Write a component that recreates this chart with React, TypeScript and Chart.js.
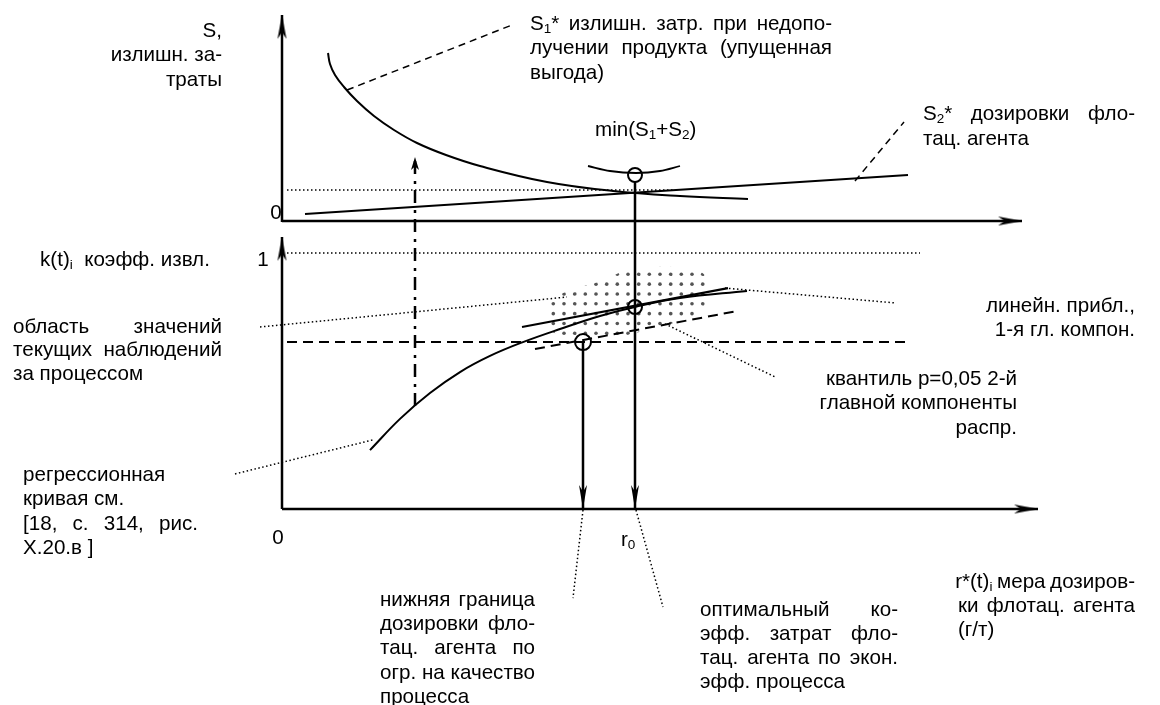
import React, { useEffect, useRef } from "react";
import { Chart, registerables } from "chart.js";

Chart.register(...registerables);

// ================= DATA =================
// r – dose of the flotation agent, S – excess costs (top panel), k – recovery coefficient (bottom panel)

// axes (from origin to arrow tip)
const topAxisR = [0, 7.4];
const topAxisS = [-0.01, 2.06];
const bottomAxisR = [0, 7.56];
const bottomAxisK = [0, 1.0625];

// top panel
const s1R = [0.46, 0.48, 0.53, 0.62, 0.75, 0.92, 1.12, 1.35, 1.64, 1.98, 2.65, 3.31, 3.98, 4.66];
const s1S = [1.68, 1.57, 1.46, 1.34, 1.2, 1.05, 0.91, 0.78, 0.66, 0.55, 0.39, 0.3, 0.25, 0.22];
const s2R = [0.23, 6.26];
const s2S = [0.07, 0.46];
const minArcR = [3.06, 3.28, 3.54, 3.78, 3.98];
const minArcS = [0.55, 0.5, 0.48, 0.5, 0.55];
const minLevelR = [0.05, 3.91];
const minLevelS = 0.31;
const optimumR = 3.53; // r0
const optimumS = 0.46;

// bottom panel
const optimumK = 0.789;
const lowBoundR = 3.01;
const lowBoundK = 0.652;
const kOne = 1;
const kOneR = [0.05, 6.38];
const kLowR = [0.05, 6.28];
const regR = [0.88, 1.18, 1.48, 1.78, 2.08, 2.41, 2.78, 3.18, 3.53, 3.98, 4.65];
const regK = [0.23, 0.352, 0.453, 0.535, 0.598, 0.652, 0.703, 0.754, 0.789, 0.824, 0.852];
const pc1R = [2.4, 4.46];
const pc1K = [0.711, 0.863];
const q05R = [2.53, 4.55];
const q05K = [0.625, 0.773];
const regionR = [2.65, 2.88, 3.2, 3.41, 3.78, 4.15, 4.26, 4.26, 4.04, 3.3, 2.88, 2.65];
const regionK = [0.816, 0.855, 0.891, 0.93, 0.949, 0.941, 0.902, 0.789, 0.738, 0.664, 0.664, 0.699];
const r0LineK = [1.281, 0];
const lossR = 1.33;
const lossK = [0.402, 1.375];

// leader lines
const leadS1R = [0.65, 2.3];
const leadS1S = [1.31, 1.96];
const leadS2R = [5.73, 6.22];
const leadS2S = [0.4, 0.99];
const leadRegionR = [-0.22, 2.85];
const leadRegionK = [0.711, 0.828];
const leadPc1R = [4.43, 6.13];
const leadPc1K = [0.863, 0.805];
const leadQR = [3.83, 4.93];
const leadQK = [0.723, 0.516];
const leadRegR = [-0.47, 0.91];
const leadRegK = [0.137, 0.27];
const leadLowR = [3.01, 2.91];
const leadLowK = [-0.004, -0.348];
const leadOptR = [3.54, 3.81];
const leadOptK = [-0.004, -0.383];

// scale ranges
const X_MIN = -2.82;
const X_MAX = 8.78;
const S_MIN = -4.84;
const S_MAX = 2.21;
const K_MIN = -0.765625;
const K_MAX = 1.98828125;

// ================= TEXT =================
const FONT_FAMILY = '"Liberation Sans", Arial, Helvetica, sans-serif';
const FONT_SIZE = 20.6;
const SUB_SIZE = 13.5;
const SUB_DY = 5;

type Line = [string, "L" | "R" | "J" | "C"];
type Block = { x0: number; x1: number; y: number; lh: number; lines: Line[] };

const TEXT_BLOCKS: Block[] = [
  { x0: 0, x1: 222, y: 31, lh: 24.5, lines: [["S,", "R"], ["излишн. за-", "R"], ["траты", "R"]] },
  {
    x0: 530, x1: 832, y: 24, lh: 24.5,
    lines: [["S_{1}* излишн. затр. при недопо-", "J"], ["лучении продукта (упущенная", "J"], ["выгода)", "L"]],
  },
  { x0: 595, x1: 700, y: 130, lh: 24, lines: [["min(S_{1}+S_{2})", "L"]] },
  { x0: 923, x1: 1135, y: 114, lh: 25, lines: [["S_{2}* дозировки фло-", "J"], ["тац. агента", "L"]] },
  { x0: 266, x1: 286, y: 213, lh: 24, lines: [["0", "C"]] },
  { x0: 40, x1: 230, y: 260, lh: 24, lines: [["k(t)_{i}  коэфф. извл.", "L"]] },
  { x0: 253, x1: 273, y: 260, lh: 24, lines: [["1", "C"]] },
  {
    x0: 13, x1: 222, y: 327, lh: 23.5,
    lines: [["область значений", "J"], ["текущих наблюдений", "J"], ["за процессом", "L"]],
  },
  {
    x0: 23, x1: 198, y: 475, lh: 24.5,
    lines: [["регрессионная", "L"], ["кривая см.", "L"], ["[18, с. 314, рис.", "J"], ["X.20.в ]", "L"]],
  },
  { x0: 268, x1: 288, y: 538, lh: 24, lines: [["0", "C"]] },
  { x0: 900, x1: 1135, y: 306, lh: 24.5, lines: [["линейн. прибл.,", "R"], ["1-я гл. компон.", "R"]] },
  {
    x0: 800, x1: 1017, y: 379, lh: 24.5,
    lines: [["квантиль р=0,05 2-й", "R"], ["главной компоненты", "R"], ["распр.", "R"]],
  },
  { x0: 621, x1: 660, y: 540, lh: 24, lines: [["r_{0}", "L"]] },
  {
    x0: 380, x1: 535, y: 600, lh: 24.3,
    lines: [["нижняя граница", "J"], ["дозировки фло-", "J"], ["тац. агента по", "J"], ["огр. на качество", "J"], ["процесса", "L"]],
  },
  {
    x0: 700, x1: 898, y: 610, lh: 24,
    lines: [["оптимальный ко-", "J"], ["эфф. затрат фло-", "J"], ["тац. агента по экон.", "J"], ["эфф. процесса", "L"]],
  },
  {
    x0: 958, x1: 1135, y: 582, lh: 24,
    lines: [["r*(t)_{i} мера дозиров-", "J"], ["ки флотац. агента", "J"], ["(г/т)", "L"]],
  },
];

type Seg = { t: string; sub: boolean };
function parseSegs(s: string): Seg[] {
  const out: Seg[] = [];
  const re = /_\{([^}]*)\}/g;
  let last = 0;
  let m: RegExpExecArray | null;
  while ((m = re.exec(s))) {
    if (m.index > last) out.push({ t: s.slice(last, m.index), sub: false });
    out.push({ t: m[1], sub: true });
    last = re.lastIndex;
  }
  if (last < s.length) out.push({ t: s.slice(last), sub: false });
  return out;
}
function setFont(ctx: CanvasRenderingContext2D, sub: boolean) {
  ctx.font = `${sub ? SUB_SIZE : FONT_SIZE}px ${FONT_FAMILY}`;
}
function segsWidth(ctx: CanvasRenderingContext2D, segs: Seg[]) {
  let w = 0;
  for (const s of segs) {
    setFont(ctx, s.sub);
    w += ctx.measureText(s.t).width;
  }
  return w;
}
function drawSegs(ctx: CanvasRenderingContext2D, segs: Seg[], x: number, y: number) {
  for (const s of segs) {
    setFont(ctx, s.sub);
    ctx.fillText(s.t, x, y + (s.sub ? SUB_DY : 0));
    x += ctx.measureText(s.t).width;
  }
}
function drawTextLine(ctx: CanvasRenderingContext2D, text: string, mode: string, x0: number, x1: number, y: number) {
  if (mode === "J") {
    const words = text.split(" ").filter(Boolean).map(parseSegs);
    const widths = words.map((w) => segsWidth(ctx, w));
    const total = widths.reduce((a, b) => a + b, 0);
    setFont(ctx, false);
    const minGap = ctx.measureText(" ").width * 0.8;
    const gap = words.length > 1 ? Math.max(minGap, (x1 - x0 - total) / (words.length - 1)) : 0;
    const used = total + gap * (words.length - 1);
    let x = used > x1 - x0 ? x1 - used : x0;
    words.forEach((w, i) => {
      drawSegs(ctx, w, x, y);
      x += widths[i] + gap;
    });
    return;
  }
  const segs = parseSegs(text);
  const w = segsWidth(ctx, segs);
  const x = mode === "R" ? x1 - w : mode === "C" ? (x0 + x1) / 2 - w / 2 : x0;
  drawSegs(ctx, segs, x, y);
}

const textPlugin = {
  id: "diagramText",
  afterDatasetsDraw(chart: any) {
    const ctx: CanvasRenderingContext2D = chart.ctx;
    ctx.save();
    ctx.fillStyle = "#000";
    ctx.textBaseline = "middle";
    ctx.textAlign = "left";
    for (const b of TEXT_BLOCKS) {
      b.lines.forEach(([t, a], i) => drawTextLine(ctx, t, a, b.x0, b.x1, b.y + i * b.lh));
    }
    ctx.restore();
  },
};

// dotted texture for the observation region
function makeDotPattern(ctx: CanvasRenderingContext2D) {
  const tw = 32;
  const th = 59;
  const c = document.createElement("canvas");
  c.width = tw;
  c.height = th;
  const g = c.getContext("2d")!;
  g.fillStyle = "#555";
  const cols = [9.3, 20.0, 30.7];
  const rows = [38.3, 48.13, 57.97, 8.8, 18.63, 28.47];
  for (const cx of cols)
    for (const cy of rows)
      for (const dx of [-tw, 0, tw])
        for (const dy of [-th, 0, th]) {
          g.beginPath();
          g.arc(cx + dx, cy + dy, 1.8, 0, Math.PI * 2);
          g.fill();
        }
  return ctx.createPattern(c, "repeat")!;
}

const regionPlugin = {
  id: "regionPattern",
  beforeDatasetsDraw(chart: any) {
    const idx = chart.data.datasets.findIndex((d: any) => d.label === "region");
    if (idx < 0) return;
    const pts = chart.getDatasetMeta(idx).data;
    const ctx: CanvasRenderingContext2D = chart.ctx;
    ctx.save();
    ctx.beginPath();
    pts.forEach((p: any, i: number) => (i ? ctx.lineTo(p.x, p.y) : ctx.moveTo(p.x, p.y)));
    ctx.closePath();
    ctx.fillStyle = makeDotPattern(ctx);
    ctx.fill();
    ctx.restore();
  },
};

function makeArrow(len: number, width: number) {
  const c = document.createElement("canvas");
  c.width = 2 * len + 2;
  c.height = width + 2;
  const g = c.getContext("2d")!;
  const cy = c.height / 2;
  const tip = len + 1;
  g.fillStyle = "#000";
  g.beginPath();
  g.moveTo(tip, cy);
  g.lineTo(1, cy - width / 2);
  g.lineTo(1 + len * 0.28, cy);
  g.lineTo(1, cy + width / 2);
  g.closePath();
  g.fill();
  return c;
}

const pts = (xs: number[], ys: number[]) => xs.map((x, i) => ({ x, y: ys[i] }));
const hPts = (xs: number[], y: number) => xs.map((x) => ({ x, y }));
const vPts = (x: number, ys: number[]) => ys.map((y) => ({ x, y }));

function lineDs(data: any[], yAxisID: string, width: number, dash: number[] = [], extra: any = {}) {
  return {
    data,
    yAxisID,
    showLine: true,
    pointRadius: 0,
    borderColor: "#000",
    backgroundColor: "#000",
    borderWidth: width,
    borderDash: dash,
    tension: 0,
    fill: false,
    ...extra,
  };
}

const DOT = [1.5, 2.5];
const DASH = [10, 6];
const LEAD_DASH = [7, 5];
const DASH_DOT = [13, 6, 3, 7];

export default function App() {
  const ref = useRef<HTMLCanvasElement | null>(null);

  useEffect(() => {
    if (!ref.current) return;
    const axisArrow = makeArrow(24, 9);
    const downArrow = makeArrow(24, 8);
    const smallArrow = makeArrow(13, 8);

    const arrowDs = (data: any[], yAxisID: string, img: HTMLCanvasElement, rot: number) => ({
      data,
      yAxisID,
      showLine: false,
      pointStyle: img,
      pointRadius: 5,
      pointRotation: rot,
      borderColor: "#000",
      backgroundColor: "#000",
    });
    const circleDs = (data: any[], yAxisID: string, r: number) => ({
      data,
      yAxisID,
      showLine: false,
      pointStyle: "circle",
      pointRadius: r,
      pointBorderWidth: 2,
      pointBorderColor: "#000",
      pointBackgroundColor: "rgba(0,0,0,0)",
    });

    const datasets: any[] = [
      // arrowheads and circles (drawn on top)
      arrowDs([{ x: 0, y: topAxisS[1] }], "yS", axisArrow, -90),
      arrowDs([{ x: topAxisR[1], y: 0 }], "yS", axisArrow, 0),
      arrowDs([{ x: 0, y: bottomAxisK[1] }], "yK", axisArrow, -90),
      arrowDs([{ x: bottomAxisR[1], y: 0 }], "yK", axisArrow, 0),
      arrowDs([{ x: lowBoundR, y: 0 }, { x: optimumR, y: 0 }], "yK", downArrow, 90),
      arrowDs([{ x: lossR, y: lossK[1] }], "yK", smallArrow, -90),
      circleDs([{ x: optimumR, y: optimumS }], "yS", 7),
      circleDs([{ x: optimumR, y: optimumK }], "yK", 7),
      circleDs([{ x: lowBoundR, y: lowBoundK }], "yK", 8),

      // axes
      lineDs(vPts(0, topAxisS), "yS", 2.5),
      lineDs(hPts(topAxisR, 0), "yS", 2.5),
      lineDs(vPts(0, bottomAxisK), "yK", 2.5),
      lineDs(hPts(bottomAxisR, 0), "yK", 2.5),

      // top panel curves
      lineDs(pts(s1R, s1S), "yS", 2, [], { tension: 0.4 }),
      lineDs(pts(s2R, s2S), "yS", 2),
      lineDs(pts(minArcR, minArcS), "yS", 1.8, [], { cubicInterpolationMode: "monotone" }),
      lineDs(hPts(minLevelR, minLevelS), "yS", 1.5, DOT),

      // bottom panel
      lineDs(hPts(kOneR, kOne), "yK", 1.5, DOT),
      lineDs(hPts(kLowR, lowBoundK), "yK", 2, DASH),
      lineDs(pts(regR, regK), "yK", 2, [], { tension: 0.4 }),
      lineDs(pts(pc1R, pc1K), "yK", 2.2),
      lineDs(pts(q05R, q05K), "yK", 2, DASH),
      lineDs(vPts(optimumR, r0LineK), "yK", 2.5),
      lineDs(vPts(lowBoundR, [lowBoundK, 0]), "yK", 2.5),
      lineDs(vPts(lossR, lossK), "yK", 2.5, DASH_DOT),

      // leader lines
      lineDs(pts(leadS1R, leadS1S), "yS", 1.5, LEAD_DASH),
      lineDs(pts(leadS2R, leadS2S), "yS", 1.5, LEAD_DASH),
      lineDs(pts(leadRegionR, leadRegionK), "yK", 1.5, DOT),
      lineDs(pts(leadPc1R, leadPc1K), "yK", 1.5, DOT),
      lineDs(pts(leadQR, leadQK), "yK", 1.5, DOT),
      lineDs(pts(leadRegR, leadRegK), "yK", 1.5, DOT),
      lineDs(pts(leadLowR, leadLowK), "yK", 1.5, DOT),
      lineDs(pts(leadOptR, leadOptK), "yK", 1.5, DOT),

      // observation region (texture drawn by plugin)
      { label: "region", data: pts(regionR, regionK), yAxisID: "yK", showLine: false, pointRadius: 0 },
    ];

    const chart = new Chart(ref.current, {
      type: "scatter",
      data: { datasets },
      options: {
        responsive: false,
        animation: false,
        devicePixelRatio: 1,
        events: [],
        layout: { padding: 0, autoPadding: false },
        plugins: {
          legend: { display: false },
          tooltip: { enabled: false },
          title: { display: false },
        },
        scales: {
          x: { type: "linear", min: X_MIN, max: X_MAX, display: false },
          yS: { type: "linear", axis: "y", min: S_MIN, max: S_MAX, display: false },
          yK: { type: "linear", axis: "y", min: K_MIN, max: K_MAX, display: false },
        },
      } as any,
      plugins: [regionPlugin, textPlugin],
    });
    return () => chart.destroy();
  }, []);

  return (
    <div style={{ position: "fixed", left: 0, top: 0, width: 1160, height: 705, background: "#fff" }}>
      <canvas ref={ref} width={1160} height={705} style={{ display: "block" }} />
    </div>
  );
}
